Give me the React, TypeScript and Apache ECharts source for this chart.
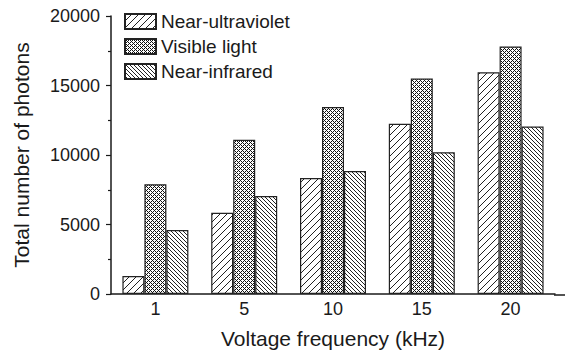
import React, { useEffect, useRef } from "react";
import * as echarts from "echarts";

const categories = ["1", "5", "10", "15", "20"];
const seriesNames = ["Near-ultraviolet", "Visible light", "Near-infrared"];
const nearUV = [1300, 5850, 8350, 12250, 15950];
const visible = [7900, 11100, 13450, 15500, 17800];
const nearIR = [4600, 7050, 8850, 10200, 12050];
const yTicks = [0, 5000, 10000, 15000, 20000];

const FONT = "'Liberation Sans', Arial, sans-serif";
const INK = "#1a1a1a";

function makeTile(size: number, pixels: Array<[number, number, string]>) {
  const c = document.createElement("canvas");
  c.width = size;
  c.height = size;
  const ctx = c.getContext("2d")!;
  ctx.fillStyle = "#ffffff";
  ctx.fillRect(0, 0, size, size);
  pixels.forEach(([x, y, col]) => {
    ctx.fillStyle = col;
    ctx.fillRect(x, y, 1, 1);
  });
  return { image: c, repeat: "repeat", imageWidth: size, imageHeight: size } as any;
}

function fwdTile() {
  const px: Array<[number, number, string]> = [];
  for (let i = 0; i < 7; i++) px.push([i, 6 - i, "#222"]);
  return makeTile(7, px);
}
function backTile() {
  const px: Array<[number, number, string]> = [];
  for (let i = 0; i < 4; i++) px.push([i, i, "#222"]);
  return makeTile(4, px);
}
function crossTile() {
  const px: Array<[number, number, string]> = [
    [0, 0, "#111"], [1, 1, "#111"], [2, 2, "#111"], [3, 3, "#111"],
    [1, 3, "#111"], [3, 1, "#111"],
  ];
  return makeTile(4, px);
}

export default function App() {
  const ref = useRef<HTMLDivElement>(null);
  useEffect(() => {
    if (!ref.current) return;
    const chart = echarts.init(ref.current, undefined, { renderer: "svg" });
    const fills = [fwdTile(), crossTile(), backTile()];
    const datas = [nearUV, visible, nearIR];
    chart.setOption({
      animation: false,
      backgroundColor: "#ffffff",
      grid: { left: 111, right: 17, top: 16, bottom: 59, containLabel: false },
      legend: {
        left: 124,
        top: 12,
        orient: "vertical",
        padding: 0,
        itemWidth: 31,
        itemHeight: 15,
        itemGap: 6,
        icon: "rect",
        textStyle: { fontFamily: FONT, fontSize: 19, color: INK, lineHeight: 19 },
        data: seriesNames,
      },
      xAxis: {
        type: "category",
        data: categories,
        axisLine: { lineStyle: { color: INK, width: 1.5 } },
        axisTick: { show: false },
        axisLabel: { fontFamily: FONT, fontSize: 18, color: INK, margin: 6 },
        name: "Voltage frequency (kHz)",
        nameLocation: "middle",
        nameGap: 34,
        nameTextStyle: { fontFamily: FONT, fontSize: 21, color: INK },
      },
      yAxis: {
        type: "value",
        min: yTicks[0],
        max: yTicks[yTicks.length - 1],
        interval: 5000,
        splitLine: { show: false },
        axisLine: { show: true, lineStyle: { color: INK, width: 1.5 } },
        axisTick: { show: true, inside: false, length: 5, lineStyle: { color: INK, width: 1.2 } },
        minorTick: { show: true, splitNumber: 2, length: 3, lineStyle: { color: INK, width: 1.2 } },
        axisLabel: {
          fontFamily: FONT,
          fontSize: 18,
          color: INK,
          margin: 11,
          formatter: (v: number) => String(v),
        },
        name: "Total number of photons",
        nameLocation: "middle",
        nameGap: 79,
        nameTextStyle: { fontFamily: FONT, fontSize: 21, color: INK },
      },
      graphic: [
        {
          type: "line",
          shape: { x1: 554, y1: 295, x2: 565, y2: 295 },
          style: { stroke: INK, lineWidth: 1.5 },
        },
      ],
      series: seriesNames.map((name, i) => ({
        name,
        type: "bar",
        data: datas[i],
        barGap: "0%",
        barCategoryGap: "25.7%",
        itemStyle: { color: fills[i], borderColor: "#222", borderWidth: 1.2 },
      })),
    });
    return () => chart.dispose();
  }, []);
  return (
    <div
      ref={ref}
      style={{ position: "fixed", left: 0, top: 0, width: 572, height: 354, background: "#fff" }}
    />
  );
}
